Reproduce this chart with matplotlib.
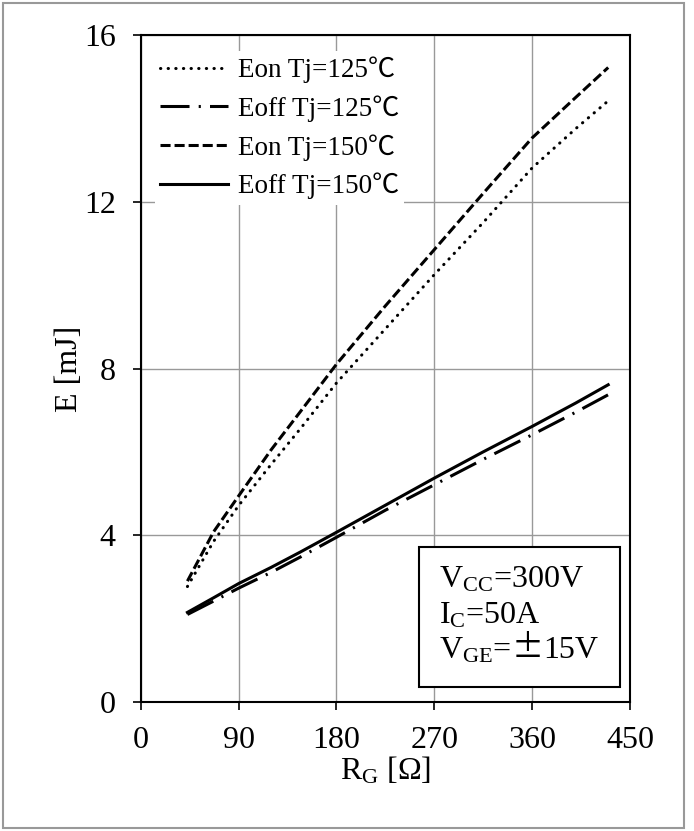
import matplotlib
matplotlib.use('Agg')
import matplotlib.pyplot as plt
from matplotlib.patches import Rectangle

plt.rcParams['font.family'] = ['Liberation Serif', 'Noto Sans CJK JP']
plt.rcParams['mathtext.fontset'] = 'custom'
plt.rcParams['mathtext.rm'] = 'Liberation Serif'
plt.rcParams['mathtext.it'] = 'Liberation Serif:italic'

# gate resistance [ohm] and switching energies [mJ]
rg = [43, 67, 90, 120, 147, 180, 225, 270, 315, 360, 400, 430]
eon_125 = [2.77, 3.85, 4.71, 5.7, 6.56, 7.65, 8.95, 10.25, 11.5, 12.81, 13.75, 14.42]
eoff_125 = [2.1, 2.42, 2.73, 3.11, 3.48, 3.95, 4.6, 5.21, 5.82, 6.41, 6.95, 7.37]
eon_150 = [2.9, 4.08, 4.94, 6.05, 6.97, 8.1, 9.5, 10.85, 12.2, 13.53, 14.5, 15.22]
eoff_150 = [2.15, 2.5, 2.84, 3.23, 3.6, 4.07, 4.72, 5.37, 6.0, 6.61, 7.17, 7.61]

labels = ['Eon Tj=125℃', 'Eoff Tj=125℃', 'Eon Tj=150℃', 'Eoff Tj=150℃']
x_ticks = [0, 90, 180, 270, 360, 450]
y_ticks = [0, 4, 8, 12, 16]
cond_lines = [['V$_{\\mathrm{CC}}$=300V'], ['I$_{\\mathrm{C}}$=50A'], ['V$_{\\mathrm{GE}}$=', '±', '15V']]

fig = plt.figure(figsize=(6.94, 8.31), dpi=100)
ax = fig.add_axes([0.2027, 0.1552, 0.7050, 0.8027])

lw = 2.2
ax.plot(rg, eon_125, color='black', lw=lw, dashes=(0.1, 2.4), dash_capstyle='round', label=labels[0])
ax.plot(rg, eoff_125, color='black', lw=lw, dashes=(9.5, 3.0, 0.7, 3.0), label=labels[1])
ax.plot(rg, eon_150, color='black', lw=lw, dashes=(3.3, 1.3), label=labels[2])
ax.plot(rg, eoff_150, color='black', lw=lw, label=labels[3])

ax.set_xlim(0, 450)
ax.set_ylim(0, 16)
ax.set_xticks(x_ticks)
ax.set_yticks(y_ticks)
ax.grid(True, color='#999999', lw=1.0)
ax.set_axisbelow(True)
for s in ax.spines.values():
    s.set_linewidth(1.5)
    s.set_color('black')
ax.tick_params(direction='out', length=6, width=1.2, labelsize=23, colors='black')
ax.tick_params(axis='x', pad=11)
ax.tick_params(axis='y', pad=12)

ax.set_xlabel('R$_{\\mathrm{G}}$ [Ω]', fontsize=23, labelpad=0)
ax.set_ylabel('E [mJ]', fontsize=23, labelpad=0)

leg = ax.legend(loc='upper left', bbox_to_anchor=(155 / 694, 1 - 51 / 831),
                bbox_transform=fig.transFigure, fontsize=19.5, frameon=True,
                fancybox=False, framealpha=1, facecolor='white', edgecolor='none',
                handlelength=2.5, handletextpad=0.35, labelspacing=0.45,
                borderpad=0.2, borderaxespad=0)
leg.set_zorder(5)

# operating conditions box
ax.add_patch(Rectangle((0.569, 0.0225), 0.411, 0.21, transform=ax.transAxes,
                       facecolor='white', edgecolor='black', lw=1.5, zorder=4))
renderer = fig.canvas.get_renderer()
for parts, yb in zip(cond_lines, [0.172, 0.118, 0.066]):
    xpos = 0.61
    for part in parts:
        fam = ['Noto Sans CJK JP'] if part == '±' else None
        t = ax.text(xpos, yb, part, transform=ax.transAxes, fontsize=23, va='baseline',
                    zorder=6, family=fam)
        bb = t.get_window_extent(renderer).transformed(ax.transAxes.inverted())
        xpos = bb.x1

# outer frame around the picture
fig.patches.append(Rectangle((3 / 694, 3 / 831), 681 / 694, 825 / 831, transform=fig.transFigure,
                             fill=False, edgecolor='#999999', lw=1.5))

fig.savefig('out.png', dpi=100)
